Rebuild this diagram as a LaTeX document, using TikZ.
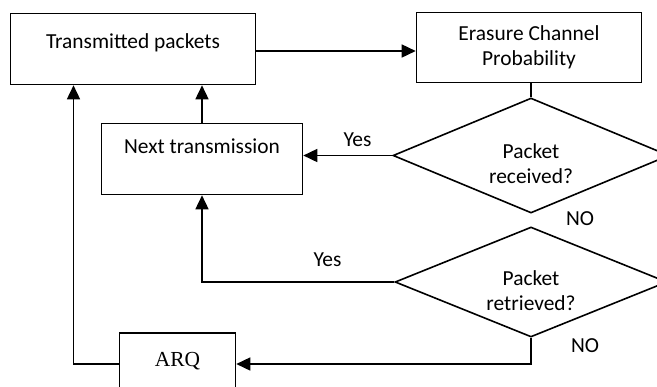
\documentclass[tikz,border=0pt]{standalone}
\usepackage{fontspec}
\setmainfont{Carlito}
\newfontfamily\arqfont{Liberation Serif}
\usetikzlibrary{arrows.meta,shapes.geometric}
\begin{document}
\begin{tikzpicture}[x=1bp,y=-1bp, line width=1.6bp,
  box/.style={draw, rectangle, inner sep=0pt, font=\fontsize{21.5}{25}\selectfont},
  dec/.style={draw, diamond, inner sep=0pt},
  lbl/.style={font=\fontsize{21.5}{25}\selectfont, inner sep=0pt, anchor=base},
  arr/.style={-{Triangle[length=14bp,width=13bp]}}]
\useasboundingbox (0,0) rectangle (657,386);
\clip (0,0) rectangle (657,386);
% boxes
\node[box, minimum width=245bp, minimum height=71bp, text height=14bp, text depth=16bp] (tp) at (133,49) {Transmitted packets};
\node[box, minimum width=225bp, minimum height=70bp, align=center, text height=39bp, text depth=4bp] (ec) at (529,47.5) {Erasure Channel\\Probability};
\node[box, minimum width=201bp, minimum height=71bp, text height=14bp, text depth=26bp] (nt) at (202,159) {Next transmission};
\node[box, minimum width=116bp, minimum height=62bp, text height=16bp, text depth=12bp, font=\arqfont\fontsize{21.5}{25}\selectfont] (arq) at (177.5,364) {ARQ};
% decisions
\node[dec, minimum width=276bp, minimum height=115bp] (d1) at (531,155.5) {};
\node[dec, minimum width=272bp, minimum height=110bp] (d2) at (531,282) {};
\node[lbl, align=center] (t1) at (531,183) {Packet\\received?};
\node[lbl, align=center] (t2) at (531,310) {Packet\\retrieved?};
% connectors
\draw[arr] ([yshift=-2bp]tp.east) -- ([yshift=-2bp]tp.east -| ec.west);
\draw (d1.north) -- (d1.north |- ec.south);
\draw[arr] (d1.west) -- (d1.west -| nt.east);
\draw[arr] (nt.north) -- (nt.north |- tp.south);
\draw[arr] (d2.west) -| (nt.south);
\draw[arr] (d2.south) |- (arq.east);
\draw[arr] (arq.west) -| ([xshift=-59.5bp]tp.south);
% labels
\node[lbl] (y1) at (357.5,146) {Yes};
\node[lbl] (y2) at (327.5,266) {Yes};
\node[lbl] (n1) at (580,225) {NO};
\node[lbl] (n2) at (585,352.5) {NO};
\end{tikzpicture}
\end{document}
